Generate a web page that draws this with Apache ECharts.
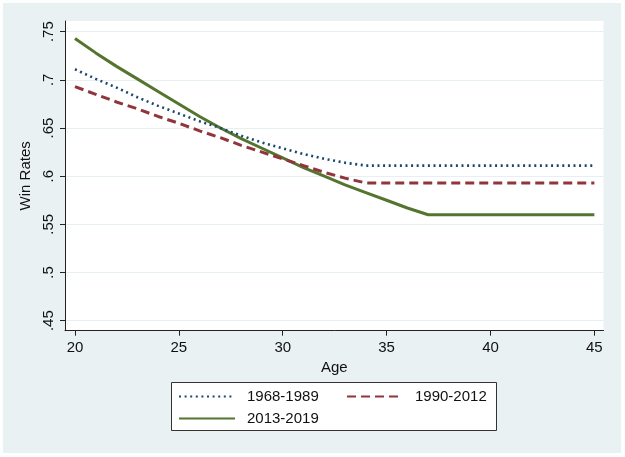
<!DOCTYPE html>
<html>
<head>
<meta charset="utf-8">
<script src="https://cdn.jsdelivr.net/npm/echarts@6/dist/echarts.min.js"></script>
<style>
html,body{margin:0;padding:0;background:#fdfefe;}
#c{width:625px;height:457px;}
</style>
</head>
<body>
<div id="c"></div>
<script>
const ages = [20,21,22,23,24,25,26,27,28,29,30,31,32,33,34,35,36,37,38,39,40,41,42,43,44,45];
const s1968 = [.711,.701,.692,.682,.673,.665,.657,.650,.642,.635,.629,.623,.618,.614,.611,.611,.611,.611,.611,.611,.611,.611,.611,.611,.611,.611];
const s1990 = [.693,.685,.677,.670,.662,.655,.647,.640,.632,.625,.618,.611,.604,.598,.593,.593,.593,.593,.593,.593,.593,.593,.593,.593,.593,.593];
const s2013 = [.743,.728,.714,.701,.688,.675,.662,.650,.639,.629,.619,.609,.600,.591,.583,.575,.567,.560,.560,.560,.560,.560,.560,.560,.560,.560];
const seriesNames = ['1968-1989','1990-2012','2013-2019'];
const xTicks = [20,25,30,35,40,45];
const yTicks = [.45,.5,.55,.6,.65,.7,.75];
const yTickLabels = ['.45','.5','.55','.6','.65','.7','.75'];

const FONT = 'Liberation Sans, Arial, sans-serif';
const pair = arr => ages.map((a,i)=>[a,arr[i]]);

const chart = echarts.init(document.getElementById('c'), null, {renderer:'canvas'});
const legendBase = {
  itemWidth: 56, itemHeight: 14, padding: 0,
  itemStyle: {opacity: 0},
  textStyle: {fontFamily: FONT, fontSize: 15, color: '#111', padding:[0,0,0,7]},
  selectedMode: false
};
chart.setOption({
  animation: false,
  backgroundColor: 'transparent',
  graphic: [
    {type:'rect', z:-10, shape:{x:3,y:3,width:618,height:450}, style:{fill:'#e9f1f3'}},
    {type:'rect', z:3, shape:{x:171.5,y:382.5,width:325,height:48}, style:{fill:'#ffffff', stroke:'#333', lineWidth:1}}
  ],
  grid: {left:65, right:21.5, top:21, bottom:126.3, show:true, backgroundColor:'#ffffff', borderWidth:0},
  xAxis: {
    type:'value', min:19.52, max:45.44,
    name:'Age', nameLocation:'middle', nameGap:30,
    nameTextStyle:{fontFamily:FONT, fontSize:15, color:'#111'},
    axisLine:{show:true, lineStyle:{color:'#222', width:1}},
    axisTick:{show:true, length:5, customValues:xTicks, lineStyle:{color:'#222'}},
    axisLabel:{customValues:xTicks, fontFamily:FONT, fontSize:15, color:'#111', margin:10},
    splitLine:{show:false}
  },
  yAxis: {
    type:'value', min:.4396, max:.7611,
    name:'Win Rates', nameLocation:'middle', nameGap:31, nameRotate:90,
    nameTextStyle:{fontFamily:FONT, fontSize:15, color:'#111'},
    axisLine:{show:true, lineStyle:{color:'#222', width:1}},
    axisTick:{show:true, length:5, customValues:yTicks, lineStyle:{color:'#222'}},
    axisLabel:{customValues:yTicks, rotate:90, fontFamily:FONT, fontSize:15, color:'#111', margin:9,
      formatter: v => { const i = yTicks.findIndex(t=>Math.abs(t-v)<1e-6); return i>=0 ? yTickLabels[i] : ''; }},
    splitLine:{show:true, lineStyle:{color:'#e6eff2', width:1}}
  },
  legend: [
    Object.assign({}, legendBase, {data:[seriesNames[0]], left:178, top:389}),
    Object.assign({}, legendBase, {data:[seriesNames[1]], left:346, top:389}),
    Object.assign({}, legendBase, {data:[seriesNames[2]], left:178, top:411})
  ],
  series: [
    {name:seriesNames[0], type:'line', data:pair(s1968), symbol:'none', z:3,
      lineStyle:{color:'#1a476f', width:2.6, type:[2,3.6]}, itemStyle:{color:'#1a476f'}},
    {name:seriesNames[1], type:'line', data:pair(s1990), symbol:'none', z:4,
      lineStyle:{color:'#90353b', width:3, type:[9,5]}, itemStyle:{color:'#90353b'}},
    {name:seriesNames[2], type:'line', data:pair(s2013), symbol:'none', z:2,
      lineStyle:{color:'#55752f', width:3}, itemStyle:{color:'#55752f'}}
  ]
});
</script>
</body>
</html>
